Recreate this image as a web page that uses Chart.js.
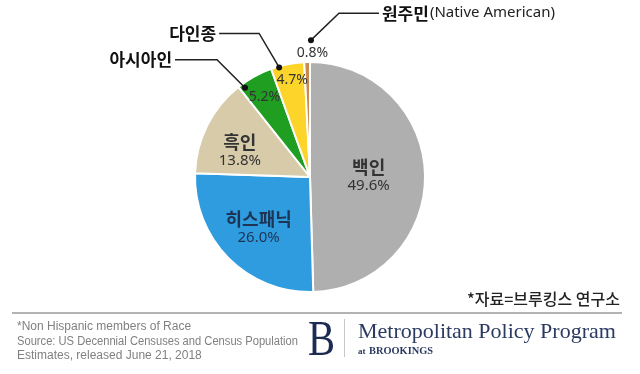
<!DOCTYPE html>
<html>
<head>
<meta charset="utf-8">
<script src="https://cdn.jsdelivr.net/npm/chart.js@4.4.1/dist/chart.umd.min.js"></script>
<style>
  html, body { margin: 0; padding: 0; background: #fff; }
  canvas { display: block; }
</style>
</head>
<body>
<canvas id="pie" width="640" height="374"></canvas>
<script>
// data, clockwise from 12 o'clock
const groups = ['백인', '히스패닉', '흑인', '아시아인', '다인종', '원주민'];
const shares = [49.6, 26.0, 13.8, 5.2, 4.7, 0.8];
const sliceColors = ['#afafaf', '#2f9ce0', '#d7cbaa', '#1f9e22', '#fcd42a', '#c98a4e'];
const nativeNote = '(Native American)';
const sourceTag = '*자료=브루킹스 연구소';
const footnotes = [
  '*Non Hispanic members of Race',
  'Source: US Decennial Censuses and Census Population',
  'Estimates, released June 21, 2018'
];

const KR = '"Noto Sans CJK KR", "Noto Sans", sans-serif';
const SANS = '"Noto Sans", "Open Sans", sans-serif';

// where to put the text of each slice: frac along the arc, rf = fraction of radius
const inside = {
  0: { frac: 0.5, rf: 0.51, color: '#333' },
  1: { frac: 0.5, rf: 0.63, color: '#1d3553' },
  2: { frac: 0.37, rf: 0.65, color: '#333' }
};
// small slices: percent label + callout dot + leader line to the name
const callouts = {
  3: { pct: [0.47, 0.80], dot: [0.13, 0.96], elbow: [-28, -28], run: -42 },
  4: { pct: [0.56, 0.86], dot: [0.24, 0.99], elbow: [-20, -34], run: -40 },
  5: { pct: [1.4, 1.08], dot: [1.14, 1.19], elbow: [28, -27], run: 40 }
};

function polar(arc, frac, rf) {
  const a = arc.startAngle + (arc.endAngle - arc.startAngle) * frac;
  return [arc.x + Math.cos(a) * arc.outerRadius * rf, arc.y + Math.sin(a) * arc.outerRadius * rf];
}

const labelPlugin = {
  id: 'labels',
  afterDatasetsDraw(chart) {
    const ctx = chart.ctx;
    const arcs = chart.getDatasetMeta(0).data;
    ctx.save();
    ctx.textAlign = 'center';
    ctx.textBaseline = 'middle';

    Object.keys(inside).forEach(k => {
      const i = +k, cfg = inside[k];
      const arc = arcs[i].getProps(['x', 'y', 'startAngle', 'endAngle', 'outerRadius'], true);
      const [x, y] = polar(arc, cfg.frac, cfg.rf);
      ctx.fillStyle = cfg.color;
      ctx.font = 'bold 18px ' + KR;
      ctx.fillText(groups[i], x, y - 9);
      ctx.font = '15px ' + SANS;
      ctx.fillText(shares[i].toFixed(1) + '%', x, y + 10);
    });

    Object.keys(callouts).forEach(k => {
      const i = +k, cfg = callouts[k];
      const arc = arcs[i].getProps(['x', 'y', 'startAngle', 'endAngle', 'outerRadius'], true);
      const [px, py] = polar(arc, cfg.pct[0], cfg.pct[1]);
      ctx.fillStyle = '#333';
      ctx.font = '14px ' + SANS;
      ctx.textAlign = 'center';
      ctx.fillText(shares[i].toFixed(1) + '%', px, py);

      const [dx, dy] = polar(arc, cfg.dot[0], cfg.dot[1]);
      const ex = dx + cfg.elbow[0], ey = dy + cfg.elbow[1];
      const tx = ex + cfg.run;
      ctx.strokeStyle = '#222';
      ctx.lineWidth = 1.5;
      ctx.beginPath();
      ctx.moveTo(dx, dy);
      ctx.lineTo(ex, ey);
      ctx.lineTo(tx, ey);
      ctx.stroke();
      ctx.fillStyle = '#111';
      ctx.beginPath();
      ctx.arc(dx, dy, 3, 0, Math.PI * 2);
      ctx.fill();

      ctx.font = 'bold 17px ' + KR;
      if (cfg.run < 0) {
        ctx.textAlign = 'right';
        ctx.fillText(groups[i], tx - 3, ey);
      } else {
        ctx.textAlign = 'left';
        ctx.fillText(groups[i], tx + 3, ey);
        const w = ctx.measureText(groups[i]).width;
        ctx.font = '15px ' + SANS;
        ctx.fillStyle = '#222';
        ctx.fillText(nativeNote, tx + 4 + w, ey);
      }
    });
    ctx.restore();
  },
  afterDraw(chart) {
    const ctx = chart.ctx;
    ctx.save();
    // source tag + rule
    ctx.fillStyle = '#222';
    ctx.font = '500 16px ' + KR;
    ctx.textAlign = 'right';
    ctx.textBaseline = 'middle';
    ctx.fillText(sourceTag, 620, 299);
    ctx.strokeStyle = '#9a9a9a';
    ctx.lineWidth = 1.5;
    ctx.beginPath();
    ctx.moveTo(12, 313);
    ctx.lineTo(622, 313);
    ctx.stroke();

    // footnotes
    ctx.textAlign = 'left';
    ctx.fillStyle = '#808080';
    ctx.font = '12px "Liberation Sans Narrow", "Liberation Sans", sans-serif';
    footnotes.forEach((t, j) => ctx.fillText(t, 17, 327 + j * 14.5, j === 1 ? 281 : undefined));

    // Brookings mark
    ctx.fillStyle = '#1b2b52';
    ctx.font = '50px "Liberation Serif", serif';
    ctx.textBaseline = 'alphabetic';
    ctx.fillText('B', 308, 355, 27);
    ctx.strokeStyle = '#c8c8c8';
    ctx.lineWidth = 1;
    ctx.beginPath();
    ctx.moveTo(344.5, 319);
    ctx.lineTo(344.5, 357);
    ctx.stroke();
    ctx.fillStyle = '#2a3a60';
    ctx.font = '22px "Liberation Serif", serif';
    ctx.fillText('Metropolitan Policy Program', 358, 338, 262);
    ctx.font = 'bold 9px "Liberation Serif", serif';
    ctx.fillText('at', 358, 354);
    ctx.font = 'bold 11px "Liberation Serif", serif';
    ctx.fillText('BROOKINGS', 369, 354, 64);
    ctx.restore();
  }
};

new Chart(document.getElementById('pie'), {
  type: 'pie',
  data: {
    labels: groups,
    datasets: [{
      data: shares,
      backgroundColor: sliceColors,
      borderColor: '#fff',
      borderWidth: 2
    }]
  },
  options: {
    responsive: false,
    animation: false,
    layout: { padding: { left: 194, right: 214, top: 61, bottom: 81 } },
    plugins: { legend: { display: false }, tooltip: { enabled: false } }
  },
  plugins: [labelPlugin]
});
</script>
</body>
</html>
